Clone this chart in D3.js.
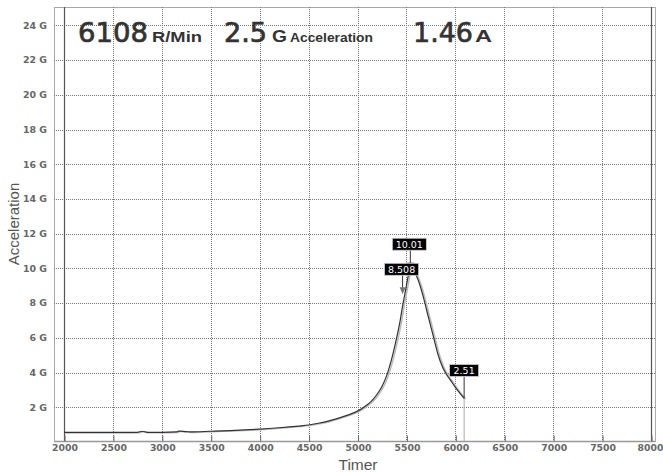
<!DOCTYPE html>
<html><head><meta charset="utf-8">
<script src="https://cdn.jsdelivr.net/npm/d3@7"></script>
<style>body{margin:0;background:#fff}svg{display:block}</style>
</head><body>
<svg id="c" width="663" height="472"></svg>
<script>
// ---- data ----
const timeValues = [2000,2200,2400,2600,2750,2800,2850,3000,3150,3170,3250,3300,3500,3700,3900,4000,4200,4400,4500,4600,4700,4800,4900,5000,5050,5100,5150,5200,5250,5300,5350,5400,5430,5460,5490,5520,5540,5560,5600,5640,5680,5720,5770,5820,5870,5920,5970,6020,6090];
const accelValues = [0.55,0.55,0.55,0.55,0.56,0.62,0.56,0.56,0.58,0.63,0.6,0.58,0.62,0.66,0.71,0.74,0.82,0.92,0.98,1.08,1.2,1.36,1.55,1.78,1.95,2.15,2.4,2.75,3.2,3.85,4.8,6.0,6.8,7.8,8.7,9.6,10.01,9.95,9.6,9.0,8.2,7.3,6.2,5.1,4.3,3.8,3.4,3.0,2.51];
const xTicks = [2000,2500,3000,3500,4000,4500,5000,5500,6000,6500,7000,7500,8000];
const yTicks = [2,4,6,8,10,12,14,16,18,20,22,24];
const yTickLabels = yTicks.map(v => v + " G");
const markerTimes = [5540, 5461, 6090];
const markerValues = [10.01, 8.508, 2.51];
const markerLabels = ["10.01", "8.508", "2.51"];
const headerValues = ["6108", "2.5", "1.46"];
const headerUnits = ["R/Min", "G", "A"];

// ---- layout ----
const svg = d3.select("#c");
const x = d3.scaleLinear().domain([2000, 8000]).range([64, 651]);
const y = d3.scaleLinear().domain([0, 25]).range([442, 8]);
const frame = {l: 54, r: 655, t: 7, b: 441};

// frame
svg.append("rect").attr("x", frame.l + 0.5).attr("y", frame.t + 0.5)
  .attr("width", frame.r - frame.l).attr("height", frame.b - frame.t)
  .attr("fill", "#fff").attr("stroke", "#aaa").attr("stroke-width", 1);

// horizontal grid
svg.append("g").selectAll("line").data(yTicks).join("line")
  .attr("x1", frame.l).attr("x2", frame.r)
  .attr("y1", d => Math.round(y(d)) + 0.5).attr("y2", d => Math.round(y(d)) + 0.5)
  .attr("stroke", "#777").attr("stroke-dasharray", "1,1");

// vertical grid
svg.append("g").selectAll("line").data(xTicks.slice(1, -1)).join("line")
  .attr("x1", d => Math.round(x(d)) + 0.5).attr("x2", d => Math.round(x(d)) + 0.5)
  .attr("y1", frame.t).attr("y2", frame.b)
  .attr("stroke", "#777").attr("stroke-dasharray", "1,1");

// solid lines at 2000 and 8000
svg.append("g").selectAll("line").data([2000, 8000]).join("line")
  .attr("x1", d => Math.round(x(d)) + 0.5).attr("x2", d => Math.round(x(d)) + 0.5)
  .attr("y1", frame.t).attr("y2", frame.b)
  .attr("stroke", "#555").attr("stroke-width", 1.2);

// x axis
const xAxis = d3.axisBottom(x).tickValues(xTicks).tickSize(3).tickFormat(d3.format("d"));
const gx = svg.append("g").attr("transform", `translate(0.5,${frame.b + 0.5})`).call(xAxis);
gx.select(".domain").attr("stroke", "#999").attr("stroke-width", 1.5).attr("d", `M${frame.l - 0.5},0H${frame.r - 0.5}`);
gx.selectAll(".tick line").attr("stroke", "#666").attr("y2", -6);
gx.selectAll(".tick text").attr("y", 3).attr("dy", "0.71em")
  .attr("font-family", "DejaVu Sans").attr("font-weight", "bold").attr("font-size", 9.3)
  .attr("fill", "#666");
gx.selectAll(".tick").filter(d => d === 8000).select("text").attr("text-anchor", "end").attr("x", 11.5);

// y axis labels
svg.append("g").selectAll("text").data(yTicks).join("text")
  .attr("x", 47).attr("y", d => y(d)).attr("dy", "0.35em")
  .attr("text-anchor", "end").attr("font-family", "DejaVu Sans").attr("font-weight", "bold")
  .attr("font-size", 9.4).attr("fill", "#666")
  .text((d, i) => yTickLabels[i]);

// axis titles
svg.append("text").attr("transform", "translate(19,224) rotate(-90)")
  .attr("text-anchor", "middle").attr("font-family", "Liberation Sans, Arial").attr("font-size", 15)
  .attr("fill", "#555").text("Acceleration");
svg.append("text").attr("x", 358).attr("y", 470)
  .attr("text-anchor", "middle").attr("font-family", "Liberation Sans, Arial").attr("font-size", 15.5)
  .attr("fill", "#555").text("Timer");

// curve
const pts = timeValues.map((t, i) => [t, accelValues[i]]);
const line = d3.line().x(d => x(d[0])).y(d => y(d[1])).curve(d3.curveMonotoneX);
svg.append("path").datum(pts).attr("d", line).attr("transform", "translate(1.5,0.5)")
  .attr("fill", "none").attr("stroke", "#bbb").attr("stroke-width", 1.5);
svg.append("path").datum(pts).attr("d", line)
  .attr("fill", "none").attr("stroke", "#333").attr("stroke-width", 1.2);

// end vertical line at last point
const lastT = markerTimes[2];
svg.append("line").attr("x1", x(lastT)).attr("x2", x(lastT))
  .attr("y1", y(markerValues[2])).attr("y2", frame.b)
  .attr("stroke", "#aaa").attr("stroke-width", 1);

// markers
const boxOffsets = [[-1, -24], [-1, -25], [0, -28]];
const mk = svg.append("g");
markerTimes.forEach((t, i) => {
  const px = x(t), py = y(markerValues[i]);
  const by = py + boxOffsets[i][1];
  const h = 12;
  mk.append("line").attr("x1", px).attr("x2", px).attr("y1", by + h / 2).attr("y2", i === 1 ? py - 5 : py)
    .attr("stroke", "#333").attr("stroke-width", 1);
  if (i === 1) {
    mk.append("path").attr("d", `M${px - 3},${py - 7}L${px + 3},${py - 7}L${px},${py}Z`).attr("fill", "#777");
  }
  if (i === 0) {
    mk.append("line").attr("x1", px - 4).attr("x2", px + 4).attr("y1", py - 5).attr("y2", py - 5)
      .attr("stroke", "#333");
  }
});
markerTimes.forEach((t, i) => {
  const px = x(t), py = y(markerValues[i]);
  const bx = px + boxOffsets[i][0], by = py + boxOffsets[i][1];
  const w = markerLabels[i].length > 4 ? 34 : 29, h = 12;
  mk.append("rect").attr("x", bx - w / 2).attr("y", by - h / 2).attr("width", w).attr("height", h)
    .attr("fill", "#000").attr("stroke", "#ccc").attr("stroke-width", 0.8);
  mk.append("text").attr("x", bx).attr("y", by).attr("dy", "0.36em").attr("text-anchor", "middle")
    .attr("font-family", "DejaVu Sans").attr("font-size", 9.5).attr("fill", "#fff").text(markerLabels[i]);
});

// header
const parts = [
  {x: 78, t: headerValues[0], s: 27, w: 70, f: "DejaVu Sans", b: "normal", sw: 0.7},
  {x: 152, t: headerUnits[0], s: 14, w: 50, f: "Liberation Sans, Arial", b: "bold", sw: 0},
  {x: 224, t: headerValues[1], s: 27, w: 43, f: "DejaVu Sans", b: "normal", sw: 0.7},
  {x: 272, t: headerUnits[1], s: 17, w: 15, f: "Liberation Sans, Arial", b: "bold", sw: 0},
  {x: 290, t: "Acceleration", s: 12.5, w: 83, f: "Liberation Sans, Arial", b: "bold", sw: 0},
  {x: 413, t: headerValues[2], s: 27, w: 60, f: "DejaVu Sans", b: "normal", sw: 0.7},
  {x: 475, t: headerUnits[2], s: 16, w: 17, f: "Liberation Sans, Arial", b: "bold", sw: 0}
];
parts.forEach(p => {
  svg.append("text").attr("x", p.x).attr("y", 42).attr("font-family", p.f).attr("font-weight", p.b)
    .attr("font-size", p.s).attr("fill", "#333").attr("stroke", p.sw ? "#333" : "none").attr("stroke-width", p.sw)
    .attr("textLength", p.w).attr("lengthAdjust", "spacingAndGlyphs").text(p.t);
});
</script>
</body></html>
